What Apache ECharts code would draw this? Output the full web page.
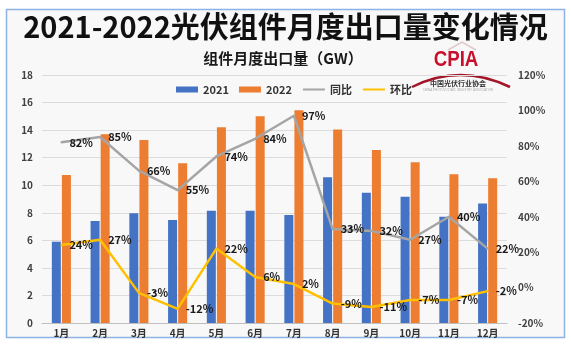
<!DOCTYPE html>
<html><head><meta charset="utf-8">
<script src="https://cdn.jsdelivr.net/npm/echarts@6/dist/echarts.min.js"></script>
<style>html,body{margin:0;padding:0;background:#fff}#c{width:571px;height:346px}</style>
</head><body><div id="c"></div>
<script>
const months = ['1月','2月','3月','4月','5月','6月','7月','8月','9月','10月','11月','12月'];
const exp2021 = [5.9, 7.4, 7.96, 7.47, 8.15, 8.15, 7.84, 10.57, 9.46, 9.17, 7.72, 8.68];
const exp2022 = [10.74, 13.7, 13.28, 11.59, 14.2, 15.0, 15.45, 14.05, 12.55, 11.66, 10.79, 10.5];
const yoy = [82, 85, 66, 55, 74, 84, 97, 33, 32, 27, 40, 22];
const mom = [24, 27, -3, -12, 22, 6, 2, -9, -11, -7, -7, -2];
const leftTicks = {min: 0, max: 18, interval: 2};
const rightTicks = {min: -20, max: 120, interval: 20};

const FF = '"Noto Sans CJK SC", sans-serif';
const chart = echarts.init(document.getElementById('c'), null, {renderer: 'canvas'});
const lblStyle = {show: true, position: 'right', distance: 7, formatter: '{c}%', color: '#1a1a1a', fontSize: 11, fontWeight: 'bold', fontFamily: FF};
chart.setOption({
  backgroundColor: '#ffffff',
  animation: false,
  title: [{
    text: '2021-2022光伏组件月度出口量变化情况', left: 'center', top: 7,
    textStyle: {fontSize: 29, fontWeight: 'bold', color: '#111', fontFamily: FF, lineHeight: 30}
  }, {
    text: '组件月度出口量（GW）', left: 278, top: 45, textAlign: 'center',
    textStyle: {fontSize: 15, fontWeight: 'bold', color: '#1a1a1a', fontFamily: FF, lineHeight: 16}
  }],
  legend: {
    left: 171, top: 79, itemWidth: 22, itemHeight: 6, itemGap: 10,
    textStyle: {fontSize: 11, fontWeight: 'bold', color: '#333', fontFamily: FF},
    data: [
      {name: '2021', icon: 'rect'},
      {name: '2022', icon: 'rect'},
      {name: '同比', itemStyle: {opacity: 0}},
      {name: '环比', itemStyle: {opacity: 0}}
    ]
  },
  grid: {left: 42, right: 64, top: 75, bottom: 23},
  xAxis: {
    type: 'category', data: months,
    axisLine: {lineStyle: {color: '#bfbfbf'}}, axisTick: {show: false},
    axisLabel: {margin: 5, fontSize: 10, fontWeight: 'bold', color: '#333', fontFamily: FF}
  },
  yAxis: [{
    type: 'value', min: leftTicks.min, max: leftTicks.max, interval: leftTicks.interval,
    axisLine: {show: false}, axisTick: {show: false},
    splitLine: {lineStyle: {color: '#dcdcdc'}},
    axisLabel: {margin: 9, fontSize: 10, fontWeight: 'bold', color: '#404040', fontFamily: FF}
  }, {
    type: 'value', min: rightTicks.min, max: rightTicks.max, interval: rightTicks.interval,
    axisLine: {show: false}, axisTick: {show: false}, splitLine: {show: false},
    axisLabel: {margin: 11, formatter: '{value}%', fontSize: 10, fontWeight: 'bold', color: '#404040', fontFamily: FF}
  }],
  series: [
    {name: '2021', type: 'bar', data: exp2021, barWidth: 9, barGap: '12%', itemStyle: {color: '#4472C4'}},
    {name: '2022', type: 'bar', data: exp2022, barWidth: 9, barGap: '12%', itemStyle: {color: '#ED7D31'}},
    {name: '同比', type: 'line', yAxisIndex: 1, data: yoy, symbol: 'circle', symbolSize: 2,
     lineStyle: {color: '#A5A5A5', width: 2.5}, itemStyle: {color: '#A5A5A5'}, label: lblStyle, z: 5},
    {name: '环比', type: 'line', yAxisIndex: 1, data: mom, symbol: 'circle', symbolSize: 2,
     lineStyle: {color: '#FFC000', width: 2.5}, itemStyle: {color: '#FFC000'}, label: lblStyle, z: 5}
  ],
  graphic: [
    {type: 'rect', z: -10, silent: true, shape: {x: 6.5, y: 9.5, width: 558, height: 328},
     style: {fill: '#f8f8f8', stroke: '#8db3e2', lineWidth: 1.5}},
    {type: 'polyline', silent: true, shape: {points: [[448, 50], [462, 42], [476, 50]]},
     style: {stroke: '#e0c8c8', lineWidth: 1.5, fill: null}},
    {type: 'text', silent: true, x: 456, y: 60, scaleX: 0.85,
     style: {text: 'CPIA', fill: '#c8102e', font: 'bold 22px "Liberation Sans", sans-serif', textAlign: 'center', textVerticalAlign: 'middle'}},
    {type: 'bezierCurve', silent: true, shape: {x1: 412, y1: 87, cpx1: 460, cpy1: 63, x2: 510, y2: 87},
     style: {stroke: '#a3162a', lineWidth: 2.5, fill: null}},
    {type: 'text', silent: true, x: 458, y: 83,
     style: {text: '中国光伏行业协会', fill: '#333', font: 'bold 7px "Noto Sans CJK SC", sans-serif', textAlign: 'center', textVerticalAlign: 'middle'}},
    {type: 'text', silent: true, x: 458, y: 90,
     style: {text: 'CHINA PHOTOVOLTAIC INDUSTRY ASSOCIATION', fill: '#aaa', font: '3px sans-serif', textAlign: 'center', textVerticalAlign: 'middle'}}
  ]
});
</script></body></html>
